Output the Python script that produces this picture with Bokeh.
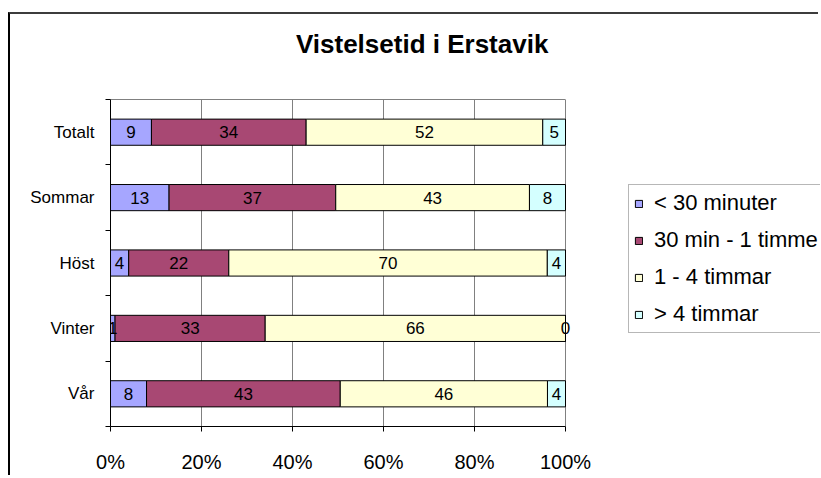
from bokeh.plotting import figure
from bokeh.models import (ColumnDataSource, Range1d, LinearAxis, CategoricalAxis,
                          FixedTicker, NumeralTickFormatter, Legend, LegendItem,
                          CustomJSTickFormatter)
from bokeh.core.properties import value
from bokeh.embed import file_html
from bokeh.resources import INLINE

# ---- data (categories listed bottom to top) ----
categories = ["Vår", "Vinter", "Höst", "Sommar", "Totalt"]
series_names = ["< 30 minuter", "30 min - 1 timme", "1 - 4 timmar", "> 4 timmar"]
under_30 = [8, 1, 4, 13, 9]
min30_to_1h = [43, 33, 22, 37, 34]
h1_to_4 = [46, 66, 70, 43, 52]
over_4 = [4, 0, 4, 8, 5]
x_ticks = [0, 0.2, 0.4, 0.6, 0.8, 1.0]
title_text = "Vistelsetid i Erstavik"

series = [under_30, min30_to_1h, h1_to_4, over_4]
colors = ["#A6A6FF", "#A84873", "#FFFFD6", "#D4FFFF"]
FONT = "Liberation Sans"

totals = [sum(s[i] for s in series) for i in range(len(categories))]
data = {"cat": categories}
keys = []
for k, s in enumerate(series):
    key = f"s{k}"
    keys.append(key)
    data[key] = [v / t for v, t in zip(s, totals)]
src = ColumnDataSource(data)

# label positions (segment centres)
lx, ly, lt = [], [], []
for i, cat in enumerate(categories):
    start = 0.0
    for k, s in enumerate(series):
        frac = s[i] / totals[i]
        lx.append(start + frac / 2)
        ly.append(cat)
        lt.append(str(s[i]))
        start += frac
lab_src = ColumnDataSource(dict(x=lx, y=ly, t=lt))

# layout (pixels)
W, H = 810, 463
LEFT, TOP, BOTTOM = 100, 85, 51
PLOT_W = 455                      # width of 0..100 %
x_end = (W - LEFT) / PLOT_W       # frame runs to the right edge (legend lives there)

p = figure(width=W, height=H, y_range=categories, x_range=Range1d(0, x_end),
           output_backend="svg", toolbar_location=None, y_axis_location=None,
           min_border_left=LEFT, min_border_right=0, min_border_top=TOP,
           min_border_bottom=BOTTOM)
p.styles = {"border-left": "2px solid #000000", "border-top": "2px solid #3c3c3c",
            "position": "relative", "left": "8px", "top": "12px"}
p.background_fill_color = "white"
p.border_fill_color = "white"
p.outline_line_color = None
p.title.text = ""

renderers = p.hbar_stack(keys, y="cat", height=0.4, source=src,
                         fill_color=colors, line_color="black", line_width=1)

p.text(x="x", y="y", text="t", source=lab_src, text_align="center",
       text_baseline="middle", text_font=value(FONT), text_font_size="17px",
       text_color="black")

# x axis
xa = p.xaxis[0]
xa.bounds = (0, 1)
xa.ticker = FixedTicker(ticks=x_ticks, minor_ticks=[])
xa.formatter = NumeralTickFormatter(format="0%")
xa.major_label_text_font = FONT
xa.major_label_text_font_size = "20px"
xa.major_label_text_color = "black"
xa.major_tick_out = 5
xa.major_tick_in = 0
xa.minor_tick_line_color = None
xa.axis_line_color = "black"
xa.major_tick_line_color = "black"
xa.major_label_standoff = 19

p.xgrid.ticker = FixedTicker(ticks=x_ticks)
p.xgrid.grid_line_color = "#808080"
p.xgrid.grid_line_width = 1
for g in p.ygrid:
    g.visible = False

blank = CustomJSTickFormatter(code="return ''")

# top edge of the plot area (grey line over 0..100 %)
top_edge = LinearAxis(bounds=(0, 1), ticker=FixedTicker(ticks=x_ticks, minor_ticks=[]),
                      formatter=blank, major_tick_line_color=None, minor_tick_line_color=None,
                      major_tick_out=0, major_tick_in=0, major_label_standoff=0,
                      axis_line_color="#808080", axis_line_width=1)
p.add_layout(top_edge, "above")

# chart title as the label of an invisible axis; trailing no-break spaces move the
# centred text left so it sits over the chart area like the original
title_axis = LinearAxis(ticker=FixedTicker(ticks=[], minor_ticks=[]),
                        formatter=blank, major_tick_line_color=None, minor_tick_line_color=None,
                        major_tick_out=0, major_tick_in=0, major_label_standoff=0,
                        axis_line_color=None, axis_label=title_text + "\u00a0" * 12,
                        axis_label_text_font=FONT, axis_label_text_font_style="bold",
                        axis_label_text_font_size="26px", axis_label_text_color="black",
                        axis_label_standoff=41)
p.add_layout(title_axis, "above")

# y axes: ticks at category boundaries + category labels
tick_axis = LinearAxis(ticker=FixedTicker(ticks=list(range(len(categories) + 1)), minor_ticks=[]),
                       formatter=blank, major_label_standoff=0,
                       major_tick_out=5, major_tick_in=0, minor_tick_line_color=None,
                       axis_line_color="black", major_tick_line_color="black")
p.add_layout(tick_axis, "left")
lab_axis = CategoricalAxis(axis_line_color=None, major_tick_line_color=None,
                           major_label_standoff=5, major_label_text_font=FONT,
                           major_label_text_font_size="17px",
                           major_label_text_color="black")
p.add_layout(lab_axis, "left")

legend = Legend(items=[LegendItem(label=n, renderers=[r]) for n, r in zip(series_names, renderers)],
                location=(518, 93), orientation="vertical",
                label_text_font=FONT, label_text_font_size="22px", label_text_color="black",
                glyph_width=9, glyph_height=9, label_height=25, spacing=11,
                padding=5, margin=0, label_standoff=11,
                border_line_color="#707070", border_line_width=1,
                background_fill_color="white", background_fill_alpha=1.0)
p.add_layout(legend)

open("out.html", "w").write(file_html(p, INLINE))
